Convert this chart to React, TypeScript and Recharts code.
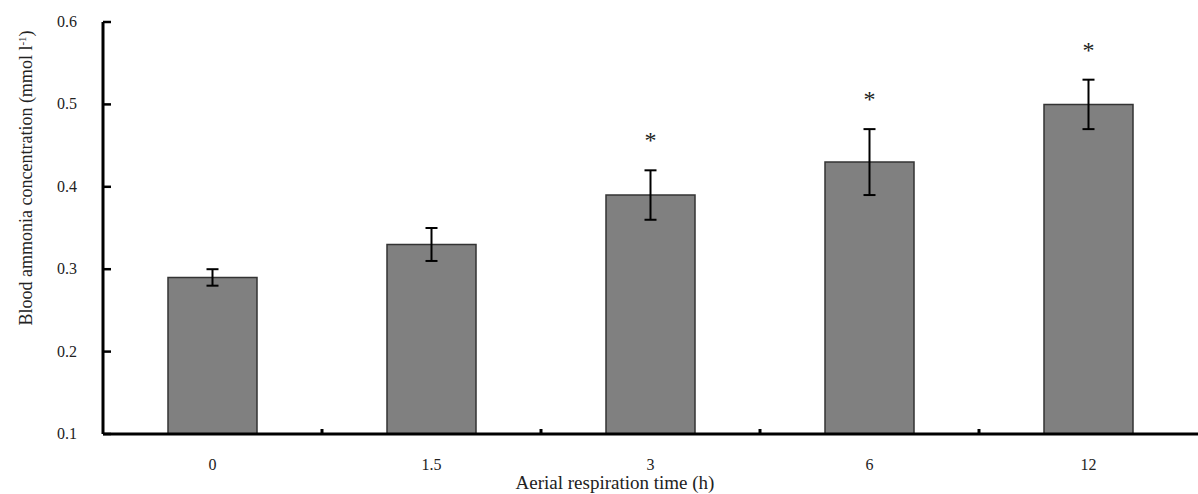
import { ComposedChart, Bar, Line, XAxis, YAxis, ErrorBar, LabelList, Label } from 'recharts';

const times = ['0', '1.5', '3', '6', '12'];
const ammonia = [0.29, 0.33, 0.39, 0.43, 0.5];
const errors = [0.01, 0.02, 0.03, 0.04, 0.03];
const significant = [false, false, true, true, true];
const yTicks = [0.1, 0.2, 0.3, 0.4, 0.5, 0.6];

const data = times.map((t, i) => ({
  time: t,
  value: ammonia[i],
  err: errors[i],
  star: significant[i] ? ammonia[i] + errors[i] : null,
}));

const W = 1198;
const H = 494;
const AXIS_X = 103;
const AXIS_Y = 434;
const BAND = (W - AXIS_X) / times.length;
const FONT = '"Liberation Serif", "Times New Roman", serif';

const YTick = (props: any) => {
  const { y, payload } = props;
  return (
    <g>
      <line x1={AXIS_X} x2={AXIS_X + 8} y1={y} y2={y} stroke="#000" strokeWidth={2.5} />
      <text x={AXIS_X - 26} y={y} dy={5} textAnchor="end" fontFamily={FONT} fontSize={16} fill="#222">
        {payload.value.toFixed(1)}
      </text>
    </g>
  );
};

const XTick = (props: any) => {
  const { x, payload, index } = props;
  return (
    <g>
      {index < times.length - 1 && (
        <line x1={x + BAND / 2} x2={x + BAND / 2} y1={AXIS_Y - 5} y2={AXIS_Y} stroke="#000" strokeWidth={3} />
      )}
      <text x={x} y={AXIS_Y + 36} textAnchor="middle" fontFamily={FONT} fontSize={16} fill="#222">
        {payload.value}
      </text>
    </g>
  );
};

const Star = (props: any) => {
  const { x, y, value } = props;
  if (value == null) return null;
  return (
    <text x={x} y={y - 22} textAnchor="middle" fontFamily={FONT} fontSize={24} fill="#222">
      *
    </text>
  );
};

export default function App() {
  return (
    <div style={{ position: 'absolute', left: 0, top: 0, background: '#fff' }}>
      <ComposedChart width={W} height={H} data={data} margin={{ top: 22, right: 0, bottom: 0, left: 0 }}>
        <XAxis
          dataKey="time"
          height={H - AXIS_Y}
          axisLine={{ stroke: '#000', strokeWidth: 3 }}
          tickLine={false}
          tick={<XTick />}
          interval={0}
        >
          <Label
            content={() => (
              <text x={615} y={489} textAnchor="middle" fontFamily={FONT} fontSize={19} fill="#222">
                Aerial respiration time (h)
              </text>
            )}
          />
        </XAxis>
        <YAxis
          width={AXIS_X}
          domain={[0.1, 0.6]}
          ticks={yTicks}
          allowDataOverflow
          axisLine={{ stroke: '#000', strokeWidth: 3 }}
          tickLine={false}
          tick={<YTick />}
        >
          <Label
            content={() => (
              <text
                transform="translate(32,178) rotate(-90)"
                textAnchor="middle"
                fontFamily={FONT}
                fontSize={18}
                fill="#222"
              >
                Blood ammonia concentration (mmol l
                <tspan dy={-6} fontSize={11}>-1</tspan>
                <tspan dy={6}>)</tspan>
              </text>
            )}
          />
        </YAxis>
        <Bar dataKey="value" barSize={89} fill="#808080" stroke="#333" strokeWidth={1.5} isAnimationActive={false}>
          <ErrorBar dataKey="err" width={6} stroke="#000" strokeWidth={2} />
        </Bar>
        <Line dataKey="star" stroke="none" dot={false} activeDot={false} isAnimationActive={false} connectNulls={false}>
          <LabelList dataKey="star" content={<Star />} />
        </Line>
      </ComposedChart>
    </div>
  );
}
